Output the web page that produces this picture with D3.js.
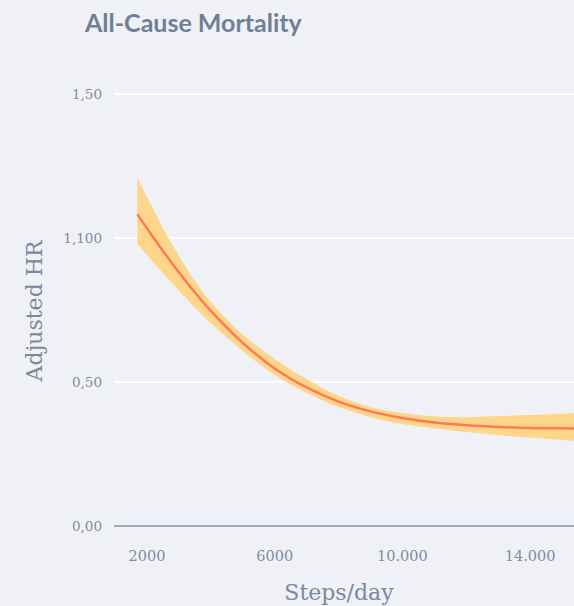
<!DOCTYPE html>
<html>
<head>
<meta charset="utf-8">
<script src="https://cdn.jsdelivr.net/npm/d3@7"></script>
<style>
  html, body { margin: 0; padding: 0; background: #eff1f6; }
  svg { display: block; }
</style>
</head>
<body>
<svg id="chart" width="574" height="606"></svg>
<script>
// Steps per day at which the spline was evaluated
const steps = [1700, 2000, 2500, 3000, 3500, 4000, 5000, 6000, 7000, 8000, 9000, 10000, 11000, 12000, 13000, 14000, 15000, 16000];
// Adjusted hazard ratio (point estimate)
const hr = [1.083, 1.034, 0.955, 0.881, 0.811, 0.747, 0.636, 0.547, 0.481, 0.432, 0.398, 0.375, 0.359, 0.350, 0.344, 0.340, 0.339, 0.338];
// 95% confidence band
const hrUpper = [1.208, 1.142, 1.035, 0.938, 0.851, 0.778, 0.665, 0.580, 0.510, 0.451, 0.413, 0.392, 0.380, 0.378, 0.382, 0.385, 0.390, 0.394];
const hrLower = [0.979, 0.941, 0.878, 0.818, 0.759, 0.705, 0.608, 0.524, 0.462, 0.413, 0.378, 0.354, 0.339, 0.326, 0.316, 0.307, 0.299, 0.290];

const xTicks = [2000, 6000, 10000, 14000];
const xTickLabels = ["2000", "6000", "10.000", "14.000"];
const yTicks = [0, 0.5, 1.0, 1.5];
const yTickLabels = ["0,00", "0,50", "1,100", "1,50"];

const svg = d3.select("#chart");

const x = d3.scaleLinear().domain([1000, 16000]).range([115, 594]);
const y = d3.scaleLinear().domain([0, 1.5]).range([526, 94]);

const serif = "'DejaVu Serif', serif";
const labelColor = "#7f8ca0";
const titleColor = "#7a899e";

// Chart title
svg.append("text")
  .attr("x", 85).attr("y", 32)
  .attr("font-family", "Lato, 'Open Sans', sans-serif")
  .attr("font-weight", 700)
  .attr("font-size", 25)
  .attr("fill", "#6f8095")
  .text("All-Cause Mortality");

// Horizontal gridlines
svg.append("g")
  .selectAll("line")
  .data(yTicks.filter(d => d > 0))
  .join("line")
  .attr("x1", 114).attr("x2", 574)
  .attr("y1", d => y(d)).attr("y2", d => y(d))
  .attr("stroke", "#ffffff").attr("stroke-width", 2);

// Baseline at zero
svg.append("line")
  .attr("x1", 114).attr("x2", 574)
  .attr("y1", y(0)).attr("y2", y(0))
  .attr("stroke", "#8593a8").attr("stroke-width", 1.5);

// Y tick labels
svg.append("g")
  .selectAll("text")
  .data(yTicks)
  .join("text")
  .attr("x", 102)
  .attr("y", d => y(d))
  .attr("dy", "0.35em")
  .attr("text-anchor", "end")
  .attr("font-family", serif)
  .attr("font-size", 13.5)
  .attr("fill", labelColor)
  .text((d, i) => yTickLabels[i]);

// X tick labels
svg.append("g")
  .selectAll("text")
  .data(xTicks)
  .join("text")
  .attr("x", d => x(d))
  .attr("y", 561)
  .attr("text-anchor", "middle")
  .attr("font-family", serif)
  .attr("font-size", 14.5)
  .attr("fill", labelColor)
  .text((d, i) => xTickLabels[i]);

// Axis titles
svg.append("text")
  .attr("x", 339).attr("y", 600)
  .attr("text-anchor", "middle")
  .attr("font-family", serif)
  .attr("font-size", 22)
  .attr("fill", titleColor)
  .text("Steps/day");

svg.append("text")
  .attr("transform", "translate(42,311) rotate(-90)")
  .attr("text-anchor", "middle")
  .attr("font-family", serif)
  .attr("font-size", 22)
  .attr("fill", titleColor)
  .text("Adjusted HR");

// Confidence band and estimate
const rows = steps.map((s, i) => ({ s, hr: hr[i], lo: hrLower[i], hi: hrUpper[i] }));
const curve = d3.curveCatmullRom.alpha(0.5);

svg.append("path")
  .datum(rows)
  .attr("fill", "#fdd68c")
  .attr("d", d3.area()
    .x(d => x(d.s))
    .y0(d => y(d.lo))
    .y1(d => y(d.hi))
    .curve(curve));

svg.append("path")
  .datum(rows)
  .attr("fill", "none")
  .attr("stroke", "#ff7a52")
  .attr("stroke-width", 2.5)
  .attr("d", d3.line()
    .x(d => x(d.s))
    .y(d => y(d.hr))
    .curve(curve));
</script>
</body>
</html>
